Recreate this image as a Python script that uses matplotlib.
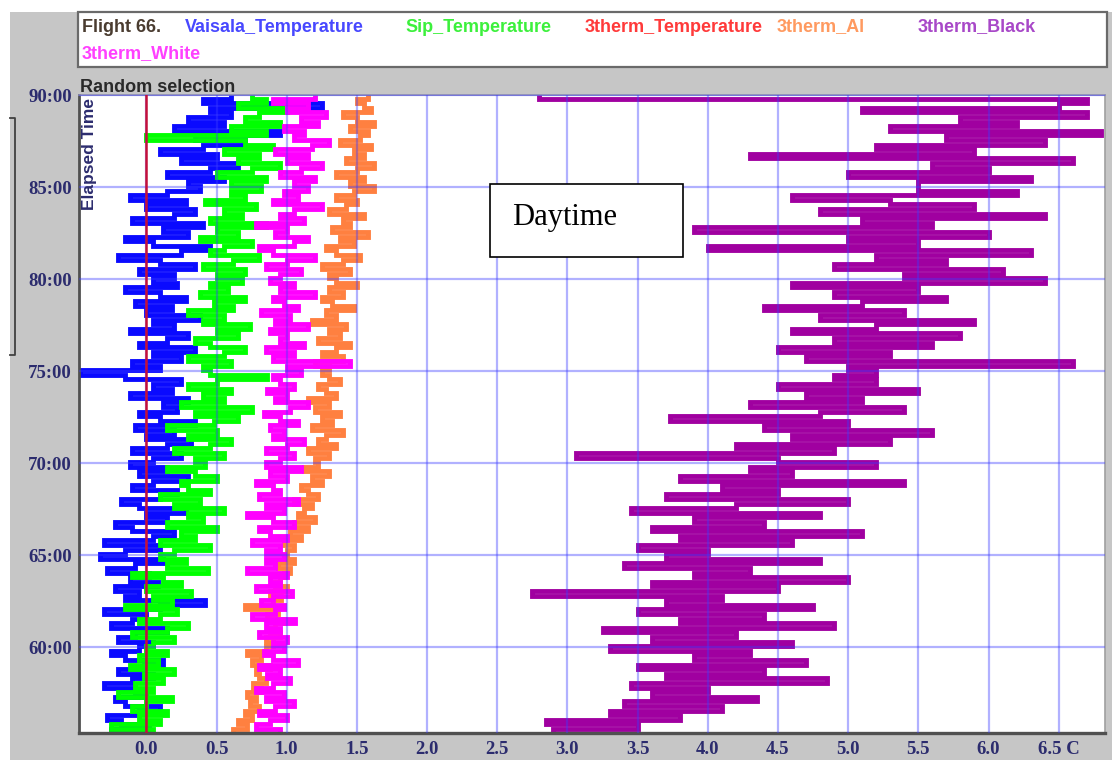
import numpy as np
import matplotlib
matplotlib.use("Agg")
import matplotlib.pyplot as plt
from matplotlib.patches import Rectangle
from matplotlib.lines import Line2D

# ---------------- data ----------------
# elapsed time samples (minutes), 0.25 min apart from 55.3 to 90.05
elapsed = 55.3 + 0.25 * np.arange(140)

vaisala = [
    -0.12, -0.25, 0.02, -0.18, -0.28, -0.05, 0.10, -0.15, -0.22, 0.00, -0.08, -0.30, -0.10, 0.05, -0.20, -0.02, 0.12, -0.15, -0.25, -0.05,
    0.05, -0.20, -0.08, 0.15, -0.25, -0.10, 0.00, -0.30, 0.10, 0.42, -0.15, -0.05, -0.22, 0.08, -0.12, 0.02, -0.28, -0.08, 0.12, -0.33,
    -0.15, 0.10, -0.30, 0.05, 0.20, -0.10, -0.22, 0.15, 0.00, 0.28, -0.05, -0.18, 0.10, 0.22, -0.10, 0.05, 0.30, -0.05, 0.15, -0.12,
    0.05, 0.25, -0.10, 0.15, 0.32, 0.00, 0.20, -0.08, 0.35, 0.10, -0.05, 0.22, 0.12, 0.30, -0.12, 0.18, 0.05, 0.25, -0.15, -0.47,
    0.10, -0.10, 0.25, 0.05, 0.35, -0.05, 0.15, 0.30, -0.12, 0.20, 0.05, 0.38, 0.00, 0.18, -0.08, 0.28, 0.10, -0.15, 0.22, 0.05,
    0.20, -0.05, 0.35, 0.10, -0.20, 0.25, 0.45, 0.05, -0.15, 0.30, 0.12, 0.40, -0.10, 0.20, 0.35, 0.00, 0.28, -0.12, 0.15, 0.38,
    0.30, 0.55, 0.15, 0.45, 0.65, 0.25, 0.50, 0.10, 0.40, 0.70, 0.35, 0.95, 0.20, 0.55, 0.30, 0.60, 0.45, 1.25, 0.40, 0.60,
]

sip = [
    -0.15, 0.05, -0.25, 0.10, -0.05, 0.15, -0.10, 0.00, 0.18, -0.20, 0.05, -0.08, 0.12, -0.02, 0.20, -0.12, 0.08, -0.05, 0.15, 0.00,
    0.05, 0.20, -0.10, 0.15, 0.30, -0.05, 0.10, 0.22, -0.15, 0.18, 0.05, 0.32, 0.00, 0.25, 0.12, -0.10, 0.44, 0.15, 0.28, 0.10,
    0.20, 0.45, 0.10, 0.35, 0.25, 0.50, 0.15, 0.40, 0.30, 0.55, 0.20, 0.38, 0.10, 0.45, 0.30, 0.25, 0.50, 0.35, 0.15, 0.42,
    0.35, 0.55, 0.20, 0.45, 0.60, 0.30, 0.50, 0.15, 0.48, 0.65, 0.35, 0.75, 0.25, 0.55, 0.40, 0.60, 0.30, 0.50, 0.86, 0.45,
    0.40, 0.60, 0.30, 0.55, 0.70, 0.45, 0.35, 0.65, 0.50, 0.74, 0.40, 0.55, 0.30, 0.62, 0.48, 0.70, 0.38, 0.58, 0.45, 0.68,
    0.50, 0.70, 0.40, 0.62, 0.80, 0.45, 0.55, 0.75, 0.38, 0.65, 0.50, 0.85, 0.45, 0.68, 0.55, 0.78, 0.42, 0.70, 0.60, 0.82,
    0.60, 0.85, 0.50, 0.75, 0.95, 0.65, 0.80, 0.55, 0.90, 0.70, 0.00, 0.85, 0.60, 0.95, 0.70, 0.80, 1.00, 0.65, 0.85, 0.75,
]

therm_al = [
    0.68, 0.62, 0.72, 0.65, 0.75, 0.70, 0.80, 0.74, 0.78, 0.72, 0.82, 0.76, 0.85, 0.80, 0.78, 0.88, 0.75, 0.82, 0.72, 0.85,
    0.90, 0.85, 0.95, 0.88, 0.92, 0.98, 0.86, 0.94, 0.70, 0.90, 0.96, 0.88, 1.00, 0.92, 0.95, 0.98, 1.02, 0.94, 1.05, 1.00,
    1.00, 1.05, 0.98, 1.10, 1.02, 1.15, 1.05, 1.20, 1.08, 1.12, 1.18, 1.05, 1.22, 1.15, 1.10, 1.25, 1.18, 1.30, 1.12, 1.22,
    1.20, 1.30, 1.15, 1.35, 1.22, 1.28, 1.40, 1.18, 1.32, 1.25, 1.38, 1.20, 1.30, 1.15, 1.35, 1.28, 1.22, 1.38, 1.30, 1.25,
    1.30, 1.20, 1.40, 1.25, 1.35, 1.45, 1.22, 1.38, 1.30, 1.42, 1.18, 1.35, 1.28, 1.48, 1.32, 1.25, 1.40, 1.30, 1.50, 1.35,
    1.30, 1.45, 1.25, 1.40, 1.52, 1.35, 1.28, 1.48, 1.38, 1.58, 1.32, 1.45, 1.40, 1.55, 1.30, 1.42, 1.50, 1.35, 1.48, 1.62,
    1.45, 1.55, 1.35, 1.50, 1.62, 1.42, 1.55, 1.48, 1.60, 1.38, 1.52, 1.58, 1.45, 1.62, 1.50, 1.40, 1.60, 1.55, 1.50, 1.58,
]

therm_black = [
    3.90, 2.90, 3.50, 2.85, 3.80, 3.30, 4.10, 3.40, 4.35, 3.60, 4.00, 3.45, 4.85, 3.70, 4.40, 3.50, 4.70, 3.90, 4.30, 3.30,
    4.60, 3.60, 4.20, 3.25, 4.90, 3.80, 4.40, 3.50, 4.75, 3.70, 4.10, 2.75, 4.50, 3.60, 5.00, 3.90, 4.30, 3.40, 4.80, 3.70,
    4.00, 3.50, 4.60, 3.80, 5.10, 3.60, 4.40, 3.90, 4.80, 3.45, 4.20, 5.00, 3.70, 4.50, 4.10, 5.40, 3.80, 4.60, 4.30, 5.20,
    4.50, 3.06, 4.90, 4.20, 5.30, 4.60, 5.60, 4.40, 5.00, 3.73, 4.80, 5.40, 4.30, 5.10, 4.70, 5.50, 4.50, 5.20, 4.90, 5.20,
    5.00, 6.60, 4.70, 5.30, 4.50, 5.60, 4.90, 5.80, 4.60, 5.20, 5.90, 4.80, 5.40, 4.40, 5.10, 5.70, 4.90, 5.50, 4.60, 6.40,
    5.40, 6.10, 4.90, 5.70, 5.20, 6.30, 4.00, 5.50, 5.00, 6.00, 3.90, 5.60, 5.10, 6.40, 4.80, 5.90, 5.30, 4.60, 6.20, 5.50,
    5.50, 6.30, 5.00, 6.00, 5.60, 6.60, 4.30, 5.90, 5.20, 6.40, 5.70, 6.80, 5.30, 6.20, 5.80, 6.70, 5.10, 6.50, 6.70, 2.80,
]

therm_white = [
    0.82, 0.95, 0.78, 0.88, 1.00, 0.80, 0.92, 1.05, 0.85, 0.98, 0.78, 0.90, 1.02, 0.86, 0.95, 0.80, 1.08, 0.90, 0.84, 0.98,
    0.90, 1.00, 0.80, 0.95, 0.85, 1.06, 0.75, 0.92, 0.98, 0.82, 0.90, 1.04, 0.78, 0.95, 0.88, 1.00, 0.72, 0.92, 0.85, 0.98,
    0.85, 0.95, 0.75, 1.00, 0.88, 0.80, 1.05, 0.90, 0.72, 0.98, 0.85, 1.08, 0.80, 0.95, 0.90, 0.78, 1.00, 0.88, 1.10, 0.85,
    0.95, 1.05, 0.85, 1.00, 1.12, 0.90, 0.98, 0.88, 1.08, 0.95, 0.84, 1.02, 1.15, 0.92, 1.00, 0.86, 1.05, 0.95, 0.90, 1.10,
    1.00, 1.45, 0.90, 1.05, 0.85, 1.12, 0.95, 1.00, 0.88, 1.15, 0.92, 1.02, 0.82, 1.08, 0.98, 0.90, 1.20, 0.95, 1.05, 0.88,
    0.95, 1.10, 0.85, 1.00, 1.20, 0.90, 0.80, 1.05, 1.15, 0.92, 1.00, 0.78, 1.12, 0.95, 1.05, 1.25, 0.90, 1.08, 0.98, 1.15,
    1.05, 1.20, 0.95, 1.10, 1.25, 1.00, 1.15, 0.92, 1.18, 1.30, 1.05, 1.12, 0.98, 1.22, 1.10, 1.28, 1.00, 1.15, 0.90, 1.20,
]

therm_temperature_zero = 0.0

series_names = ["Vaisala_Temperature", "Sip_Temperature", "3therm_Temperature",
                "3therm_Al", "3therm_Black", "3therm_White"]

x_ticks = [0.0, 0.5, 1.0, 1.5, 2.0, 2.5, 3.0, 3.5, 4.0, 4.5, 5.0, 5.5, 6.0, 6.5]
x_tick_labels = ["0.0", "0.5", "1.0", "1.5", "2.0", "2.5", "3.0", "3.5", "4.0",
                 "4.5", "5.0", "5.5", "6.0", "6.5 C"]
y_ticks = [60, 65, 70, 75, 80, 85, 90]
y_tick_labels = ["60:00", "65:00", "70:00", "75:00", "80:00", "85:00", "90:00"]

# ---------------- figure ----------------
W, H = 1112, 760
fig = plt.figure(figsize=(W / 100, H / 100), dpi=100, facecolor="white")

def fx(px):
    return px / W

def fy(py):
    return 1 - py / H

# grey window background
fig.patches.append(Rectangle((fx(10), 0), 1, fy(12), transform=fig.transFigure,
                             facecolor="#c6c6c6", edgecolor="none", zorder=-10))
# legend panel
fig.patches.append(Rectangle((fx(78), fy(67)), fx(1107) - fx(78), fy(12) - fy(67),
                             transform=fig.transFigure, facecolor="white",
                             edgecolor="#6a6a6a", linewidth=1.6, zorder=-5))
# bracket at the far left
fig.add_artist(Line2D([fx(10), fx(15), fx(15), fx(10)],
                      [fy(118), fy(118), fy(355), fy(355)],
                      transform=fig.transFigure, color="#404040", linewidth=1.3))

leg_font = dict(fontsize=13, fontweight="bold", family="Liberation Sans", va="center")
fig.text(fx(82), fy(27), "Flight 66.", color="#4a3c30", **leg_font)
legend_colors = ["#4848ff", "#3cf03c", "#ff3a3a", "#ff9a60", "#a848c8", "#ff40ff"]
legend_pos = [(185, 27), (405, 27), (585, 27), (777, 27), (918, 27), (82, 54)]
for name, col, (px, py) in zip(series_names, legend_colors, legend_pos):
    fig.text(fx(px), fy(py), name, color=col, **leg_font)

fig.text(fx(80), fy(92), "Random selection", fontsize=13, fontweight="bold",
         family="Liberation Sans", color="#2a2a2a", va="baseline")

ax = fig.add_axes([fx(79), fy(733), fx(1105) - fx(79), fy(95) - fy(733)])
ax.set_facecolor("white")

line_kw = dict(drawstyle="steps-post", zorder=2, solid_capstyle="butt", solid_joinstyle="miter")
ax.plot(vaisala, elapsed, color="#0a0aff", lw=3.5, **line_kw)
ax.plot(sip, elapsed, color="#00ff00", lw=3.5, **line_kw)
ax.plot(therm_al, elapsed, color="#ff8040", lw=3.5, **line_kw)
ax.plot(therm_black, elapsed, color="#a000a0", lw=3.5, **line_kw)
ax.plot(therm_white, elapsed, color="#ff00ff", lw=3.5, **line_kw)
ax.axvline(therm_temperature_zero, color="#c4103a", lw=1.8, zorder=3)

ax.set_xlim(-0.48, 6.83)
ax.set_ylim(55.33, 90)
ax.set_xticks(x_ticks)
ax.set_xticklabels(x_tick_labels)
ax.set_yticks(y_ticks)
ax.set_yticklabels(y_tick_labels)
ax.set_axisbelow(False)
ax.grid(True, color="#3c3cff", alpha=0.4, lw=1.6)
ax.tick_params(length=0, labelcolor="#2c2c6e")
ax.tick_params(axis="y", pad=5)
ax.tick_params(axis="x", pad=6)
for lab in ax.get_xticklabels() + ax.get_yticklabels():
    lab.set_fontfamily("Liberation Serif")
    lab.set_fontweight("bold")
    lab.set_fontsize(13.5)

ax.spines["left"].set_color("#505050")
ax.spines["left"].set_linewidth(2.0)
ax.spines["bottom"].set_color("#505050")
ax.spines["bottom"].set_linewidth(2.4)
ax.spines["top"].set_color("#8a8ab8")
ax.spines["top"].set_linewidth(1.2)
ax.spines["right"].set_color("#a0a0a0")
ax.spines["right"].set_linewidth(1.2)

ax.text(0.01, 0.995, "Elapsed Time", rotation=90, ha="center", va="top",
        transform=ax.transAxes, fontsize=12.5, fontweight="bold",
        family="Liberation Sans", color="#2c2c6e", zorder=6)

# Daytime annotation box
fig.patches.append(Rectangle((fx(490), fy(257)), fx(683) - fx(490), fy(184) - fy(257),
                             transform=fig.transFigure, facecolor="white",
                             edgecolor="black", linewidth=1.2, zorder=5))
fig.text(fx(512), fy(225), "Daytime", fontsize=22, family="Liberation Serif",
         color="black", va="baseline", zorder=6)

fig.savefig("out.png", dpi=100, facecolor=fig.get_facecolor())
